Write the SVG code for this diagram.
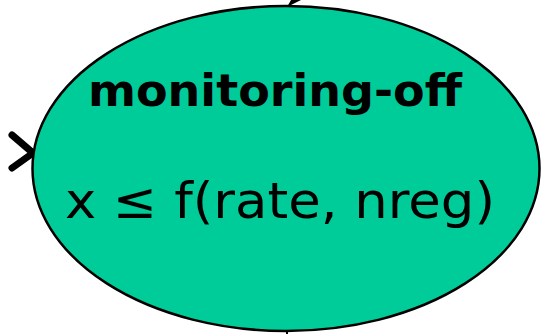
<svg xmlns="http://www.w3.org/2000/svg" width="541" height="334" viewBox="0 0 541 334">
<style>
.state{fill:#00CC99;stroke:#000;stroke-width:2.5}
.lbl{font-family:"Comic Sans MS","DejaVu Sans","Liberation Sans",sans-serif;fill:#000}
.conn{fill:none;stroke:#000;stroke-linecap:round;stroke-linejoin:round}
</style>
<g id="connectors">
<path class="conn" d="M12,135 L33,153 L12,168" stroke-width="7"/>
<polygon points="287,7 291,0 301,0" fill="#000"/>
<path class="conn" d="M287,330 L287,334" stroke-width="2"/>
</g>
<g id="monitoring-off">
<ellipse class="state" cx="286" cy="168.5" rx="253.5" ry="162.5"/>
<text class="lbl" x="88" y="106" font-size="45" font-weight="bold" textLength="374" lengthAdjust="spacingAndGlyphs">monitoring-off</text>
<text class="lbl" x="65" y="218" font-size="50" textLength="430" lengthAdjust="spacingAndGlyphs">x  ≤  f(rate, nreg)</text>
</g>
</svg>
